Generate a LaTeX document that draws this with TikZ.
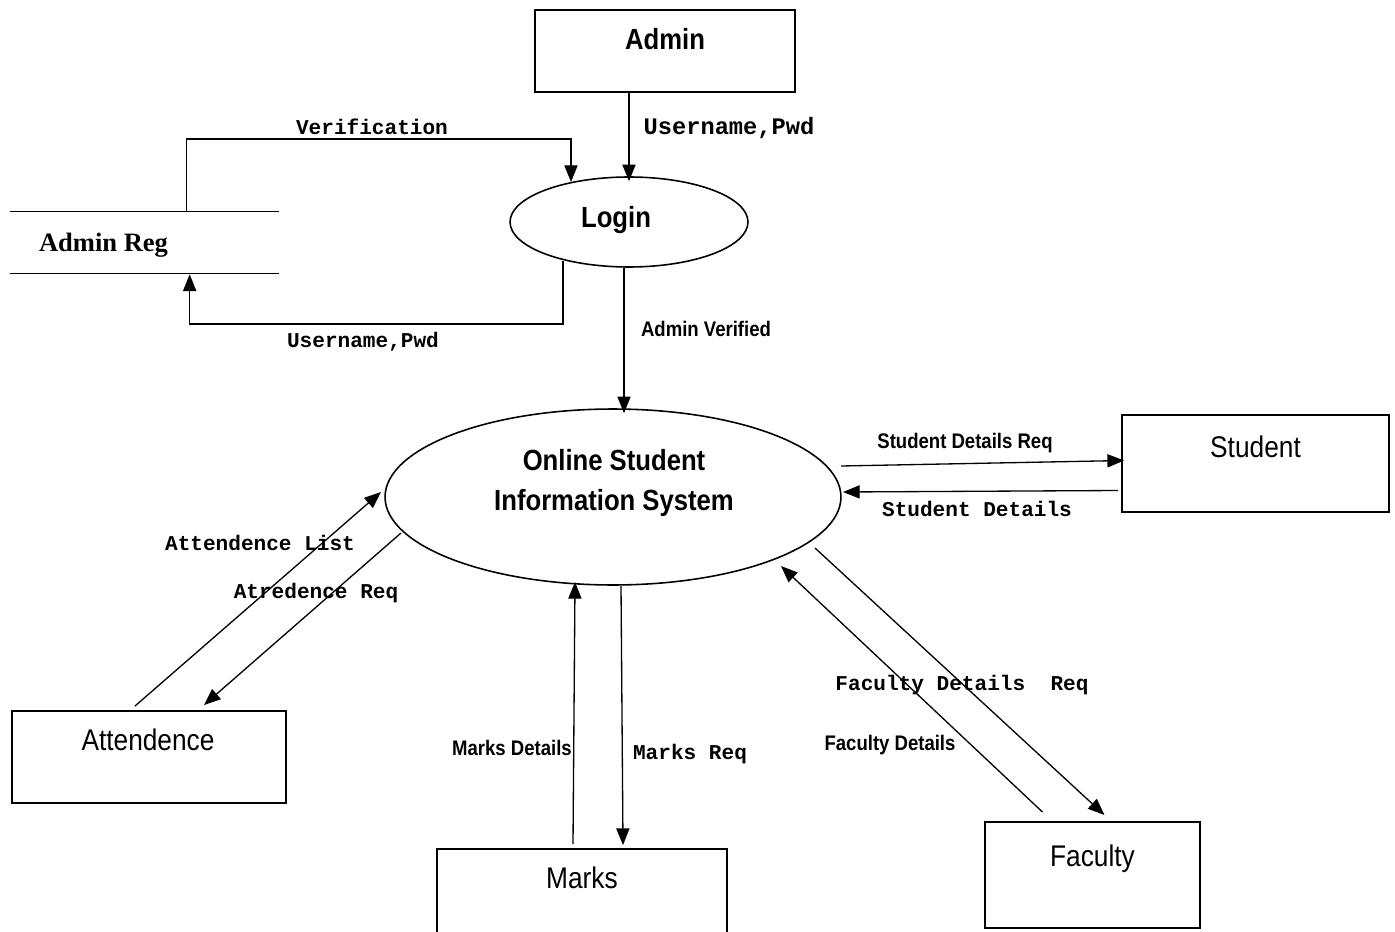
\documentclass[tikz,border=0pt]{standalone}
\usepackage{fontspec}
\usetikzlibrary{arrows.meta,shapes.geometric,calc}
\newfontfamily\monof{Liberation Mono}
\newfontfamily\sansn{Liberation Sans}[FakeStretch=0.88]
\newfontfamily\serifb{Liberation Serif}
\tikzset{
  ent/.style={draw, line width=1.1pt, rectangle, inner sep=0pt},
  proc/.style={draw, line width=0.9pt, ellipse, inner sep=0pt},
  flow/.style={line width=0.75pt, -{Triangle[length=9.5pt,width=7.5pt]}},
  plain/.style={line width=0.75pt},
  etxt/.style={font=\sansn\fontsize{17}{20}\selectfont, inner sep=0pt},
  btxt/.style={font=\sansn\bfseries\fontsize{16.6}{20.5}\selectfont, inner sep=0pt, align=center},
  lbl/.style={font=\sansn\bfseries\fontsize{12}{14}\selectfont, inner sep=0pt},
  mlbl/.style={font=\monof\bfseries\fontsize{12}{14}\selectfont, inner sep=0pt},
}
\begin{document}
\begin{tikzpicture}[x=0.02cm, y=-0.02cm]
\useasboundingbox (0,0) rectangle (1395,932);
\clip (0,0) rectangle (1395,932);
% entities
\node[ent, minimum width=5.2cm, minimum height=1.64cm] (admin) at (665,51) {};
\node[btxt] (admintxt) at ($(admin.center)+(0,-12)$) {Admin};
\node[proc, minimum width=4.76cm, minimum height=1.8cm] (login) at (629,222) {};
\node[btxt] (logintxt) at ($(login.center)+(-13,-2)$) {Login};
\node[minimum width=5.38cm, minimum height=1.22cm, inner sep=0pt] (adminreg) at (144.5,242.5) {};
\draw[plain] (adminreg.north west) -- (adminreg.north east);
\draw[plain] (adminreg.south west) -- (adminreg.south east);
\node[font=\serifb\bfseries\fontsize{15.1}{18}\selectfont, inner sep=0pt] (adminregtxt) at ($(adminreg.center)+(-41,3)$) {Admin Reg};
\node[proc, minimum width=9.12cm, minimum height=3.52cm] (osis) at (613,497) {};
\node[btxt] (osistxt) at ($(osis.center)+(1,-14)$) {Online Student\\[2.5pt]Information System};
\node[ent, minimum width=5.34cm, minimum height=1.94cm] (student) at (1255.5,463.5) {};
\node[etxt] (studenttxt) at ($(student.center)+(0,-17)$) {Student};
\node[ent, minimum width=5.48cm, minimum height=1.84cm] (attend) at (149,757) {};
\node[etxt] (attendtxt) at ($(attend.center)+(-1,-17)$) {Attendence};
\node[ent, minimum width=5.8cm, minimum height=2cm] (marks) at (582,899) {};
\node[etxt] (markstxt) at ($(marks.center)+(0,-21)$) {Marks};
\node[ent, minimum width=4.3cm, minimum height=2.12cm] (faculty) at (1092.5,875) {};
\node[etxt] (facultytxt) at ($(faculty.center)+(0,-16)$) {Faculty};
% flows
\draw[flow] (admin.south -| login.north) -- ($(login.north)+(0,5)$);
\node[mlbl, font=\monof\bfseries\fontsize{13.5}{15}\selectfont] (l1) at (729,128) {Username,Pwd};
\draw[flow] ($(adminreg.north west)+(177,0)$) |- ($(login.center)+(-58,-83)$) -- ($(login.center)+(-58,-40)$);
\node[mlbl] (l2) at (372,127) {Verification};
\draw[flow] ($(login.center)+(-66,39)$) -- ($(login.center)+(-66,102)$) -| ($(adminreg.south west)+(180,1)$);
\node[mlbl] (l3) at (363,342) {Username,Pwd};
\draw[flow] ($(login.south)+(-5,0)$) -- ($(osis.north)+(11,5)$);
\node[lbl] (l4) at (706,329) {Admin Verified};
\draw[flow] ($(osis.center)+(228,-31)$) -- ($(student.west)+(3,-3)$);
\node[lbl] (l5) at (965,443) {Student Details Req};
\draw[flow] ($(student.west)+(-3,27)$) -- ($(osis.center)+(230,-5)$);
\node[mlbl] (l6) at (977,509) {Student Details};
\draw[flow] ($(attend.north)+(-14,-4)$) -- ($(osis.center)+(-232,-5)$);
\node[mlbl] (l7) at (260,543) {Attendence List};
\draw[flow] ($(osis.center)+(-212,36)$) -- ($(attend.north)+(55,-5)$);
\node[mlbl] (l8) at (316,593) {Atredence Req};
\draw[flow] ($(marks.north)+(-9,-4)$) -- ($(osis.center)+(-38,85)$);
\node[lbl] (l9) at (512,748) {Marks Details};
\draw[flow] ($(osis.center)+(8,89)$) -- ($(marks.north)+(41,-3)$);
\node[mlbl] (l10) at (690,754) {Marks Req};
\draw[flow] ($(faculty.north)+(-50,-9)$) -- ($(osis.center)+(168,69)$);
\node[lbl] (l11) at (890,745) {Faculty Details};
\draw[flow] ($(osis.center)+(202,51)$) -- ($(faculty.north)+(12,-6)$);
\node[mlbl] (l12) at (962,685) {Faculty Details\ \ Req};
\end{tikzpicture}
\end{document}
